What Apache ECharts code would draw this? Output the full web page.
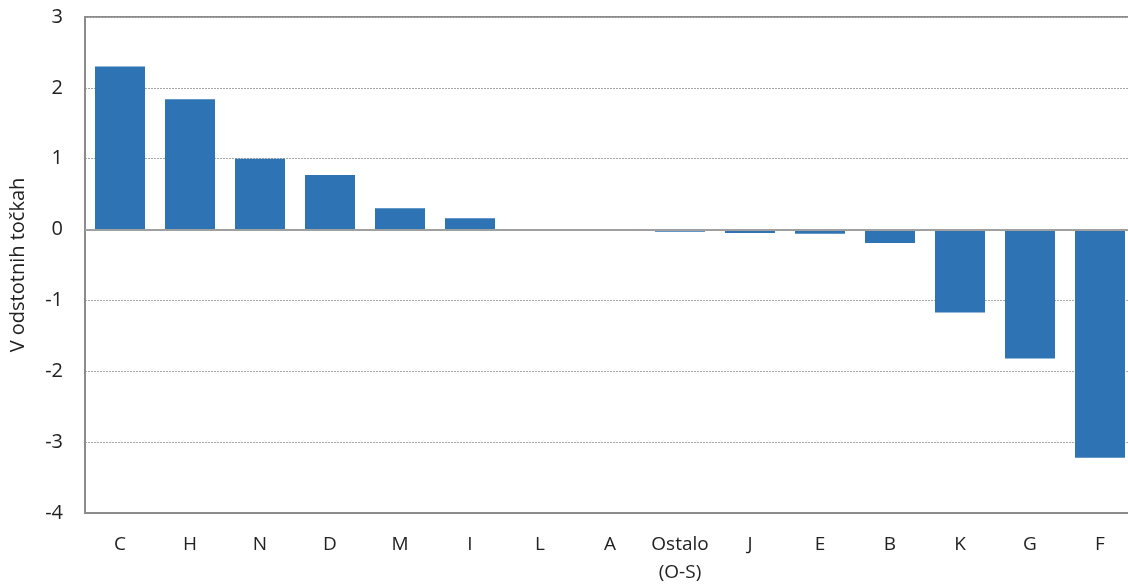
<!DOCTYPE html>
<html><head><meta charset="utf-8">
<script src="https://cdn.jsdelivr.net/npm/echarts@6/dist/echarts.min.js"></script>
<style>html,body{margin:0;padding:0;background:#fff}#c{width:1128px;height:585px}</style>
</head><body><div id="c"></div>
<script>
const categories = ['C','H','N','D','M','I','L','A','Ostalo\n(O-S)','J','E','B','K','G','F'];
const values = [2.30, 1.84, 1.00, 0.77, 0.30, 0.16, 0, 0, -0.03, -0.05, -0.06, -0.19, -1.17, -1.82, -3.22];
const yTicks = {min: -4, max: 3, interval: 1};
const yName = 'V odstotnih točkah';

const chart = echarts.init(document.getElementById('c'));
const font = 'Open Sans, Noto Sans, sans-serif';
chart.setOption({
  animation: false,
  grid: {left: 85, top: 17, width: 1050, height: 496, show: true, borderColor: '#8c8c8c', borderWidth: 2,
    backgroundColor: 'transparent', containLabel: false, outerBoundsMode: 'none'},
  xAxis: {
    type: 'category', data: categories,
    axisLine: {onZero: false, lineStyle: {color: '#8c8c8c', width: 2}},
    axisTick: {show: false},
    axisLabel: {color: '#222', fontSize: 19, fontFamily: font, margin: 18, lineHeight: 28, interval: 0}
  },
  yAxis: {
    type: 'value', min: yTicks.min, max: yTicks.max, interval: yTicks.interval,
    name: yName, nameLocation: 'middle', nameGap: 57, nameRotate: 90,
    nameTextStyle: {color: '#222', fontSize: 20, fontFamily: font},
    axisLine: {show: true, lineStyle: {color: '#8c8c8c', width: 2}},
    axisTick: {show: false},
    axisLabel: {color: '#222', fontSize: 20, fontFamily: font, margin: 22},
    splitLine: {lineStyle: {color: '#a6a6a6', type: [2, 1], width: 1}}
  },
  series: [{
    type: 'bar', data: values, barWidth: 50,
    itemStyle: {color: '#2e74b5'},
    markLine: {silent: true, symbol: 'none', label: {show: false},
      lineStyle: {color: '#a0a0a0', type: 'solid', width: 2},
      data: [{yAxis: 0}]}
  }]
});
</script></body></html>
